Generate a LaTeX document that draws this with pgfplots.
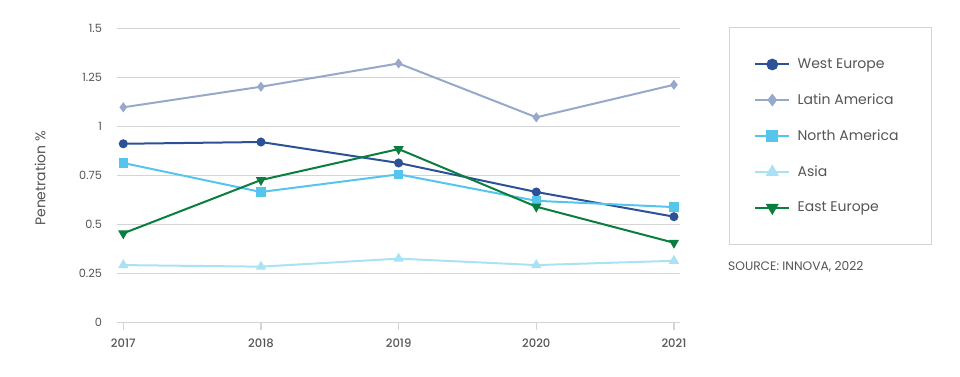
\documentclass[border=0pt]{standalone}
\usepackage{pgfplots}
\pgfplotsset{compat=1.18}
\usepackage{fontspec}
\setmainfont{Poppins}
\newfontfamily\pmed{Poppins Medium}
\definecolor{we}{HTML}{2C5196}
\definecolor{la}{HTML}{97A8CB}
\definecolor{na}{HTML}{56C5EC}
\definecolor{as}{HTML}{A9E2F5}
\definecolor{ee}{HTML}{0A7E3F}
\definecolor{txt}{HTML}{555555}
\definecolor{grd}{HTML}{D4D4D4}
\begin{document}
\begin{tikzpicture}[x=1pt,y=1pt]
\path (0,0) rectangle (720,282.75);
\begin{axis}[
  at={(87.5pt,41pt)}, anchor=south west, scale only axis,
  width=422.5pt, height=220.5pt,
  xmin=2016.952, xmax=2021.044, ymin=0, ymax=1.5,
  clip=false,
  axis line style={draw=none},
  xtick={2017,2018,2019,2020,2021},
  xticklabels={2017,2018,2019,2020,2021},
  ytick={0,0.25,0.5,0.75,1,1.25,1.5},
  yticklabels={0,0.25,0.5,0.75,1,1.25,1.5},
  xtick pos=bottom, ytick pos=left,
  tick align=outside, major tick length=6pt,
  xtick style={draw=grd, line width=0.9pt},
  ytick style={draw=none},
  ymajorgrids, grid style={draw=grd, line width=0.75pt},
  ticklabel style={font=\fontsize{8.5}{10}\selectfont, text=txt},
  yticklabel style={xshift=-1.5pt},
  xticklabel style={yshift=-2.5pt, font=\fontsize{8.7}{10}\selectfont\pmed},
  ylabel={Penetration \%},
  ylabel style={font=\fontsize{10.5}{12}\selectfont, text=txt, at={(axis description cs:-0.118,0.49)}, anchor=south},
  legend style={at={(axis description cs:1.1314,0.907)}, anchor=north west, draw=none, fill=none,
    font=\fontsize{10.5}{12}\selectfont, text=txt, row sep=13.5pt, inner sep=0pt,
    /tikz/every odd column/.append style={column sep=3.5pt}},
  legend cell align=left,
  legend image code/.code={\draw[mark repeat=2,mark phase=2,#1,every mark/.append style={scale=1.4}] plot coordinates {(0pt,0pt) (12.75pt,0pt) (25.5pt,0pt)};},
  every axis plot/.append style={line width=1.5pt},
]
\addplot[we, mark=*, mark size=2.6pt] coordinates {(2017,0.911) (2018,0.920) (2019,0.813) (2020,0.665) (2021,0.539)};
\addlegendentry{West Europe}
\addplot[la, mark=diamond*, mark size=2.6pt] coordinates {(2017,1.097) (2018,1.202) (2019,1.321) (2020,1.046) (2021,1.212)};
\addlegendentry{Latin America}
\addplot[na, mark=square*, mark size=2.7pt] coordinates {(2017,0.813) (2018,0.665) (2019,0.755) (2020,0.620) (2021,0.588)};
\addlegendentry{North America}
\addplot[as, mark=triangle*, mark size=3pt] coordinates {(2017,0.292) (2018,0.284) (2019,0.325) (2020,0.292) (2021,0.314)};
\addlegendentry{Asia}
\addplot[ee, mark=triangle*, mark options={rotate=180}, mark size=3pt] coordinates {(2017,0.454) (2018,0.726) (2019,0.884) (2020,0.590) (2021,0.406)};
\addlegendentry{East Europe}
\draw[grd, line width=0.75pt] (axis description cs:1.087,1.004) rectangle (axis description cs:1.447,0.266);
\node[anchor=west, inner sep=0pt, text=txt, font=\fontsize{9.2}{10}\selectfont] at (axis description cs:1.085,0.188) {SOURCE: INNOVA, 2022};
\end{axis}
\end{tikzpicture}
\end{document}
